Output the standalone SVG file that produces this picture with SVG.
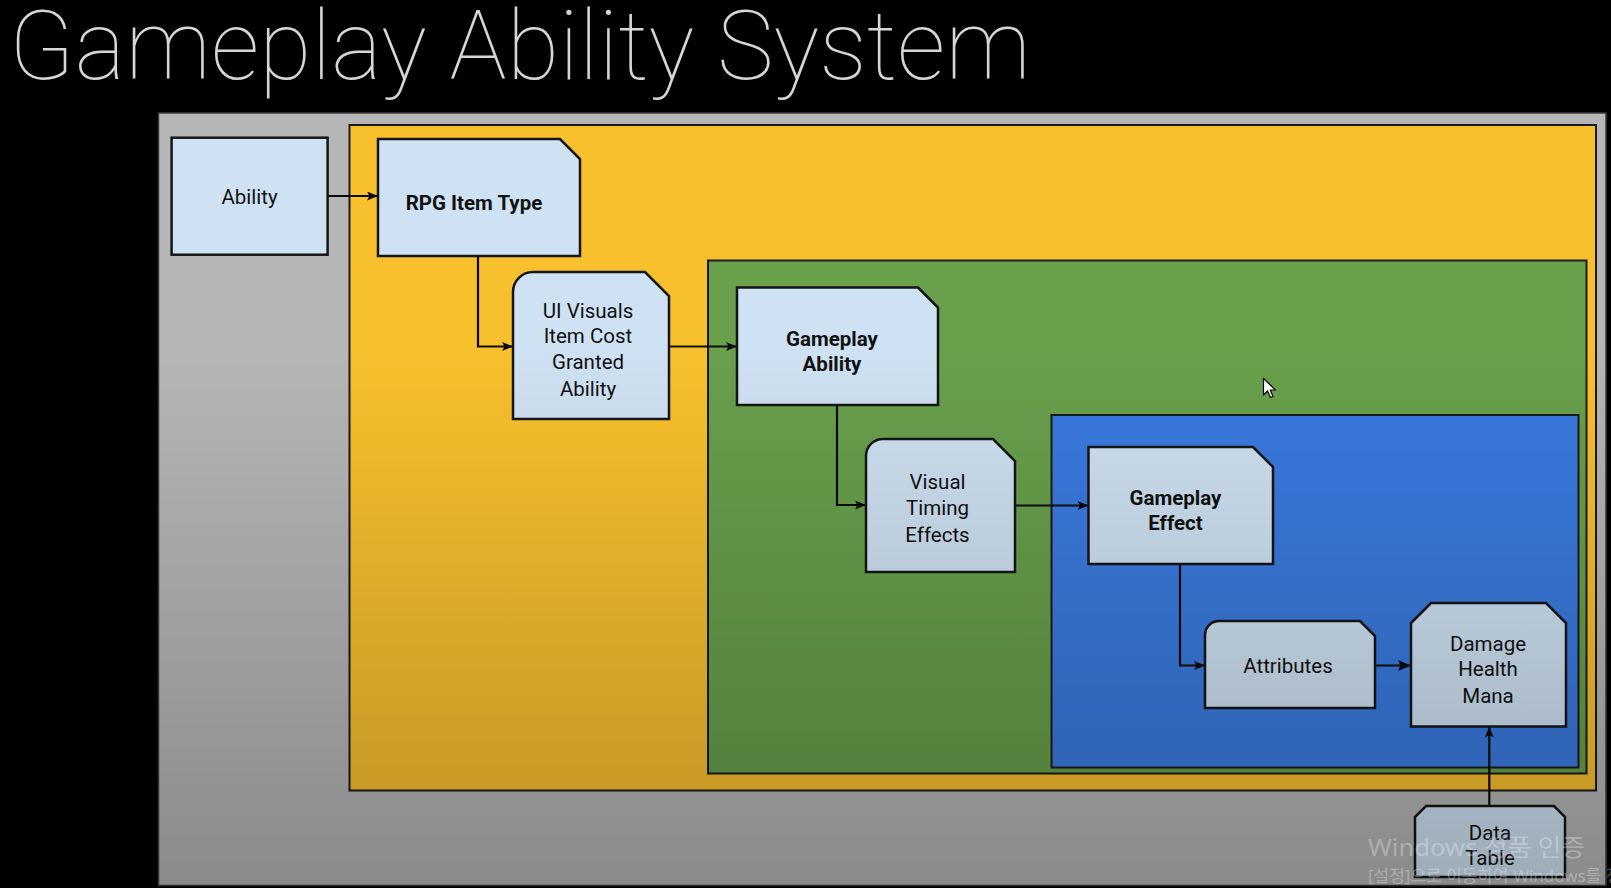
<svg xmlns="http://www.w3.org/2000/svg" width="1611" height="888" viewBox="0 0 1611 888">
<defs>
<style>
.node{fill:#cfe2f3;stroke:#151515;stroke-width:2.5;stroke-linejoin:miter}
.lbl{font-family:Roboto,"Liberation Sans",sans-serif;font-size:20.5px;fill:#111;text-anchor:middle}
.b{font-weight:bold}
.con{fill:none;stroke:#0a0a0a;stroke-width:2.2}
.box{stroke:#1a1a1a;stroke-width:2}
</style>
<linearGradient id="shade" x1="0" y1="113" x2="0" y2="886" gradientUnits="userSpaceOnUse">
<stop offset="0" stop-color="#000" stop-opacity="0"/>
<stop offset="0.3" stop-color="#000" stop-opacity="0"/>
<stop offset="1" stop-color="#000" stop-opacity="0.24"/>
</linearGradient>
<marker id="arr" markerUnits="userSpaceOnUse" markerWidth="12" markerHeight="10" refX="11" refY="4.5" orient="auto">
<path d="M0,0 L11,4.5 L0,9 L2.5,4.5 Z" fill="#0a0a0a"/>
</marker>
<marker id="arrB" markerUnits="userSpaceOnUse" markerWidth="14" markerHeight="12" refX="13" refY="5.5" orient="auto">
<path d="M0,0 L13,5.5 L0,11 L2.5,5.5 Z" fill="#0a0a0a"/>
</marker>
</defs>
<rect x="0" y="0" width="1611" height="888" fill="#000"/>
<text x="9" y="79" font-family="Roboto,'Liberation Sans',sans-serif" font-weight="100" font-size="96" fill="#d6d6d6" textLength="1022" lengthAdjust="spacingAndGlyphs">Gameplay Ability System</text>

<g id="containers">
<rect x="158.5" y="113" width="1447.5" height="772.5" fill="#b6b6b6" stroke="#3a3a3a" stroke-width="1.5"/>
<rect class="box" x="349.5" y="125" width="1246.5" height="665.5" fill="#f9c02d"/>
<rect class="box" x="708" y="260.5" width="878.5" height="513" fill="#68a04c"/>
<rect class="box" x="1051.5" y="415" width="527" height="352.5" fill="#3a7be0"/>
</g>

<g id="connectors">
<path class="con" d="M327.7,196 H378" marker-end="url(#arr)"/>
<path class="con" d="M478,256 V346.5 H513" marker-end="url(#arr)"/>
<path class="con" d="M669,346.5 H737" marker-end="url(#arr)"/>
<path class="con" d="M837,405 V505 H866" marker-end="url(#arr)"/>
<path class="con" d="M1015,505.5 H1088.5" marker-end="url(#arr)"/>
<path class="con" d="M1180,564 V665.5 H1205" marker-end="url(#arr)"/>
<path class="con" d="M1375,665.5 H1411" stroke-width="3" marker-end="url(#arrB)"/>
<path class="con" d="M1489.3,805.7 V726.5" marker-end="url(#arr)"/>
</g>

<g id="n-ability">
<rect class="node" x="171.6" y="137.7" width="156" height="117"/>
<text class="lbl" x="249.6" y="203.5">Ability</text>
</g>
<g id="n-rpg">
<path class="node" d="M378,139 H560 L580,159 V256 H378 Z"/>
<text class="lbl b" x="474" y="209.5">RPG Item Type</text>
</g>
<g id="n-ui">
<path class="node" d="M513,419 V292 A20 20 0 0 1 533,272 H645 L669,296 V419 Z"/>
<text class="lbl" x="588" y="317.5">UI Visuals</text>
<text class="lbl" x="588" y="343">Item Cost</text>
<text class="lbl" x="588" y="369">Granted</text>
<text class="lbl" x="588" y="395.5">Ability</text>
</g>
<g id="n-gameplay-ability">
<path class="node" d="M737,287.5 H918 L938,307.5 V405 H737 Z"/>
<text class="lbl b" x="832" y="345.5">Gameplay</text>
<text class="lbl b" x="832" y="371">Ability</text>
</g>
<g id="n-visual">
<path class="node" d="M866,572 V456 A17 17 0 0 1 883,439 H993 L1015,461 V572 Z"/>
<text class="lbl" x="937.5" y="489">Visual</text>
<text class="lbl" x="937.5" y="515">Timing</text>
<text class="lbl" x="937.5" y="541.5">Effects</text>
</g>
<g id="n-gameplay-effect">
<path class="node" d="M1088.5,447 H1253 L1273,467 V564 H1088.5 Z"/>
<text class="lbl b" x="1175.5" y="504.5">Gameplay</text>
<text class="lbl b" x="1175.5" y="530">Effect</text>
</g>
<g id="n-attributes">
<path class="node" d="M1205,708 V635 A14 14 0 0 1 1219,621 H1360 L1375,636 V708 Z"/>
<text class="lbl" x="1288" y="673">Attributes</text>
</g>
<g id="n-damage">
<path class="node" d="M1411,623 L1431,603 H1546 L1566,623 V726.5 H1411 Z"/>
<text class="lbl" x="1488" y="650.5">Damage</text>
<text class="lbl" x="1488" y="676">Health</text>
<text class="lbl" x="1488" y="702.5">Mana</text>
</g>
<g id="n-datatable">
<path class="node" d="M1415,817 L1426,806 H1554 L1565,817 V877 H1415 Z"/>
<text class="lbl" x="1490" y="839.5">Data</text>
<text class="lbl" x="1490" y="865">Table</text>
</g>

<rect x="158.5" y="113" width="1447.5" height="773" fill="url(#shade)" pointer-events="none"/>

<g id="cursor">
<path d="M1263.5,378.5 V395 L1267.5,391 L1270.5,397.5 L1273,396.5 L1270.2,390 H1275.5 Z" fill="#fff" stroke="#000" stroke-width="1.2" stroke-linejoin="round"/>
</g>

<g id="watermark" fill="#ffffff" fill-opacity="0.3" font-family="'Noto Sans','Noto Sans CJK KR',sans-serif">
<text x="1368" y="856" font-size="24" textLength="217" lengthAdjust="spacingAndGlyphs">Windows 정품 인증</text>
<text x="1368" y="882" font-size="17">[설정]으로 이동하여 Windows를 정품 인증합니다.</text>
</g>
</svg>
